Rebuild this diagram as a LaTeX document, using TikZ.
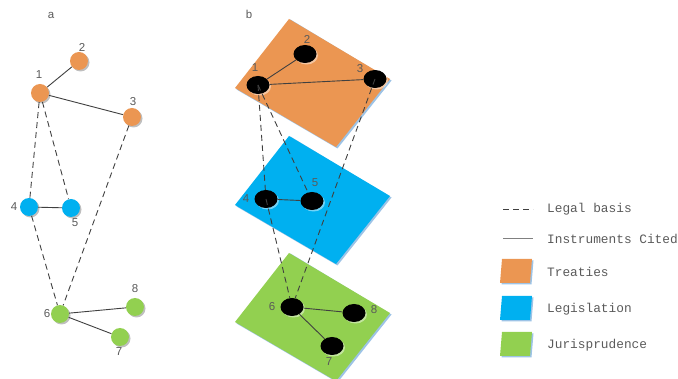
\documentclass[tikz,border=0pt]{standalone}
\usepackage{fontspec}
\setmainfont{Liberation Sans}
\newfontfamily\monofont{Liberation Mono}
\usetikzlibrary{shapes.geometric}
\definecolor{orangeC}{RGB}{235,150,82}
\definecolor{blueC}{RGB}{0,176,240}
\definecolor{greenC}{RGB}{146,208,80}
\definecolor{shadowC}{RGB}{157,195,230}
\definecolor{edgeC}{RGB}{64,64,64}
\definecolor{labC}{RGB}{90,90,90}
\tikzset{
  vtx/.style={circle, minimum size=18pt, inner sep=0pt},
  bvtx/.style={ellipse, fill=black, minimum width=23pt, minimum height=18pt, inner sep=0pt},
  lab/.style={text=labC, font=\fontsize{11.5pt}{12pt}\selectfont, inner sep=0pt},
  cited/.style={draw=edgeC, line width=0.9pt},
  legal/.style={draw=edgeC, line width=0.9pt, dash pattern=on 6pt off 4pt},
  plane/.style={line width=0pt},
  legtxt/.style={text=labC, font=\monofont\fontsize{12.8pt}{14pt}\selectfont, anchor=west, inner sep=0pt},
}
\begin{document}
\begin{tikzpicture}[x=1pt,y=-1pt]
\useasboundingbox (0,0) rectangle (678,379);
% ---------------- panel a ----------------
\node[lab] (la) at (51,15) {a};
\foreach \p/\c in {{(40,93)}/orangeC,{(79,61)}/orangeC,{(132,117)}/orangeC,{(29,207)}/blueC,{(71,208)}/blueC,{(60,314)}/greenC,{(120,337)}/greenC,{(135,307)}/greenC}
  \fill[black!25] \p ++(1.5,1.5) circle (9pt);
\node[vtx, fill=orangeC] (a1) at (40,93) {};
\node[vtx, fill=orangeC] (a2) at (79,61) {};
\node[vtx, fill=orangeC] (a3) at (132,117) {};
\node[vtx, fill=blueC] (a4) at (29,207) {};
\node[vtx, fill=blueC] (a5) at (71,208) {};
\node[vtx, fill=greenC] (a6) at (60,314) {};
\node[vtx, fill=greenC] (a7) at (120,337) {};
\node[vtx, fill=greenC] (a8) at (135,307) {};
\node[lab] (la1) at (39,75) {1};
\node[lab] (la2) at (82,47) {2};
\node[lab] (la3) at (133,102) {3};
\node[lab] (la4) at (14,207) {4};
\node[lab] (la5) at (75,223) {5};
\node[lab] (la6) at (47,314) {6};
\node[lab] (la7) at (119,352) {7};
\node[lab] (la8) at (135,289) {8};
\draw[cited] (a1) -- (a2);
\draw[cited] (a1) -- (a3);
\draw[cited] (a4) -- (a5);
\draw[cited] (a6) -- (a8);
\draw[cited] (a6) -- (a7);
\draw[legal] (a1) -- (a4);
\draw[legal] (a1) -- (a5);
\draw[legal] (a3) -- (a6);
\draw[legal] (a4) -- (a6);
% ---------------- panel b ----------------
\node[font=\monofont\fontsize{11.5pt}{12pt}\selectfont, text=labC, inner sep=0pt] (lb) at (249,14) {b};
\foreach \dy/\c in {0/orangeC,117/blueC,234/greenC}{
  \fill[shadowC] (290.5,19.5+\dy) -- (391.5,80.5+\dy) -- (337.5,148.5+\dy) -- (236.5,89.5+\dy) -- cycle;
  \fill[\c] (289,19+\dy) -- (390,79+\dy) -- (336,147+\dy) -- (235,88+\dy) -- cycle;
}
\foreach \p in {{(258,85)},{(305,54)},{(375,79)},{(266,199)},{(312,201)},{(292,307)},{(332,346)},{(354,313)}}
  \fill[white, opacity=0.45] \p ++(1.5,1.5) ellipse (11.5pt and 9pt);
\node[bvtx] (b1) at (258,85) {};
\node[bvtx] (b2) at (305,54) {};
\node[bvtx] (b3) at (375,79) {};
\node[bvtx] (b4) at (266,199) {};
\node[bvtx] (b5) at (312,201) {};
\node[bvtx] (b6) at (292,307) {};
\node[bvtx] (b7) at (332,346) {};
\node[bvtx] (b8) at (354,313) {};
\node[lab] (lb1) at (255,68) {1};
\node[lab] (lb2) at (307,39) {2};
\node[lab] (lb3) at (360,69) {3};
\node[lab] (lb4) at (246,199) {4};
\node[lab] (lb5) at (315,183) {5};
\node[lab] (lb6) at (272,307) {6};
\node[lab] (lb7) at (329,362) {7};
\node[lab] (lb8) at (374,310) {8};
\draw[cited] (b1) -- (b2);
\draw[cited] (b1) -- (b3);
\draw[cited] (b4) -- (b5);
\draw[cited] (b6) -- (b8);
\draw[cited] (b6) -- (b7);
\draw[legal] (b1.center) -- (b4);
\draw[legal] (b1.center) -- (b5);
\draw[legal] (b3.center) -- (b6);
\draw[legal] (b4.center) -- (b6);
% ---------------- legend ----------------
\coordinate (d1) at (503,209);
\coordinate (d2) at (533,209);
\draw[legal, draw=edgeC] (d1) -- (d2);
\node[legtxt] (t1) at (547,209) {Legal basis};
\coordinate (s1) at (503,239);
\coordinate (s2) at (533,239);
\draw[draw=gray, line width=1pt] (s1) -- (s2);
\node[legtxt] (t2) at (547,239) {Instruments Cited};
\foreach \y/\c in {259/orangeC,296/blueC,332/greenC}{
  \fill[shadowC] (503.5,\y+1.5) -- (533.5,\y+1.5) -- (531.5,\y+25.5) -- (501.5,\y+25.5) -- cycle;
  \fill[\c] (502,\y) -- (532,\y) -- (530,\y+24) -- (500,\y+24) -- cycle;
}
\node[legtxt] (t3) at (547,272) {Treaties};
\node[legtxt] (t4) at (547,309) {Legislation};
\node[legtxt] (t5) at (547,345) {Jurisprudence};
\end{tikzpicture}
\end{document}
